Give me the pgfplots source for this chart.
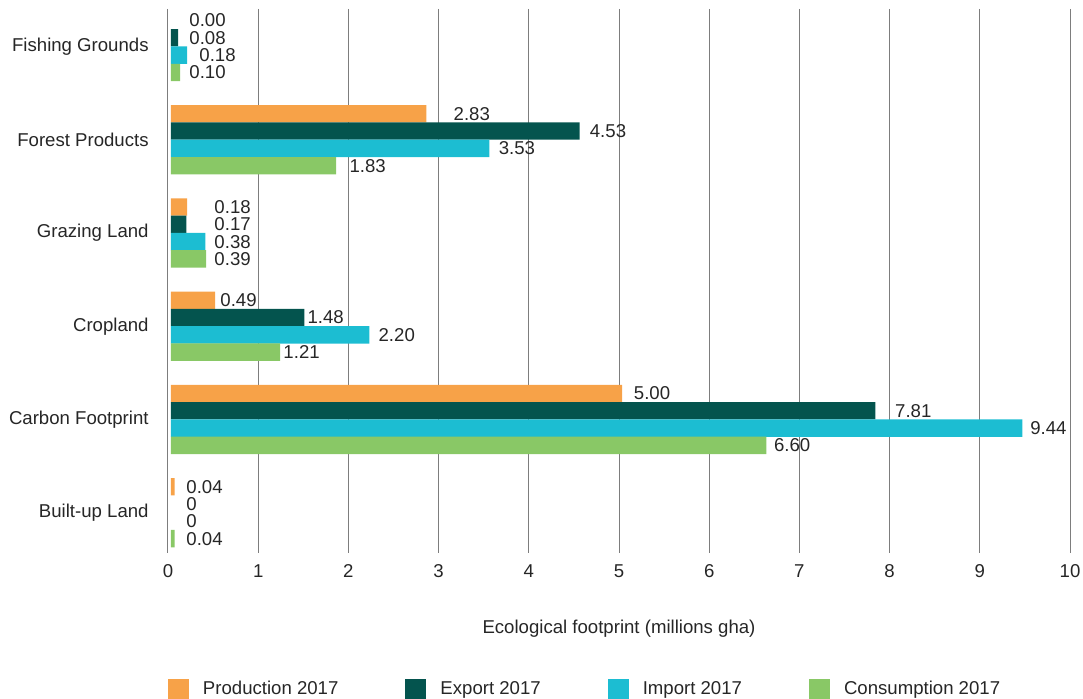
\documentclass[border=0pt]{standalone}
\usepackage{pgfplots}
\pgfplotsset{compat=1.18}
\usepackage{pgfplotstable}
\usepackage{fontspec}
\setmainfont{Liberation Sans}
\usetikzlibrary{calc}

\definecolor{cprod}{RGB}{247,162,72}
\definecolor{cexp}{RGB}{4,84,78}
\definecolor{cimp}{RGB}{28,189,210}
\definecolor{ccons}{RGB}{137,200,102}
\definecolor{cgrid}{RGB}{125,125,125}
\definecolor{ctext}{RGB}{38,38,38}

% columns: category index, value, label text, label x position
\pgfplotstableread{
y val lab lx
0 0.00 0.00 0.233
1 2.83 2.83 3.163
2 0.18 0.18 0.511
3 0.49 0.49 0.577
4 5.00 5.00 5.161
5 0.04 0.04 0.200
}\tprod
\pgfplotstableread{
y val lab lx
0 0.08 0.08 0.233
1 4.53 4.53 4.673
2 0.17 0.17 0.511
3 1.48 1.48 1.543
4 7.81 7.81 8.058
5 0 0 0.200
}\texp
\pgfplotstableread{
y val lab lx
0 0.18 0.18 0.344
1 3.53 3.53 3.663
2 0.38 0.38 0.511
3 2.20 2.20 2.331
4 9.44 9.44 9.556
5 0 0 0.200
}\timp
\pgfplotstableread{
y val lab lx
0 0.10 0.10 0.233
1 1.83 1.83 2.009
2 0.39 0.39 0.511
3 1.21 1.21 1.276
4 6.60 6.60 6.715
5 0.04 0.04 0.200
}\tcons

\begin{document}
\color{ctext}
\begin{tikzpicture}[font=\fontsize{9.3}{11.2}\selectfont]
\begin{axis}[
  name=ax,
  scale only axis,
  width=451pt, height=272pt,
  xmin=0, xmax=10,
  ymin=-0.402, ymax=5.432,
  y dir=reverse,
  xtick={0,1,...,10},
  ytick={0,1,2,3,4,5},
  yticklabels={Fishing Grounds,Forest Products,Grazing Land,Cropland,Carbon Footprint,Built-up Land},
  /pgf/number format/assume math mode=true,
  axis line style={draw=none},
  major tick length=0pt,
  xmajorgrids,
  grid style={cgrid, line width=0.5pt},
  xticklabel style={inner sep=0pt, yshift=-5.5pt},
  yticklabel style={inner sep=0pt, xshift=-9.5pt},
  xlabel={Ecological footprint (millions gha)},
  xlabel style={at={(axis description cs:0.5,0)}, anchor=north, inner sep=0pt, yshift=-33.5pt},
  legend columns=4,
  legend style={at={(axis description cs:0,0)}, anchor=north west, yshift=-63pt,
    draw=none, fill=none, inner sep=0pt, outer sep=0pt,
    nodes={inner sep=0pt},
    /tikz/every odd column/.append style={column sep=7pt},
    /tikz/every even column/.append style={column sep=33.5pt}},
  legend image code/.code={\fill[#1] (0pt,-5.25pt) rectangle (10.5pt,5.25pt);},
  nodes near coords style={anchor=west, inner sep=0pt},
  zerobar/.style={x filter/.expression={x==0 ? nan : x}},
]
\addplot[xbar, zerobar, xshift=1.5pt, bar width=0.1855, bar shift=-0.278, fill=cprod, draw=none] table[x=val, y=y] {\tprod};
\addlegendentry{Production 2017}
\addplot[xbar, zerobar, xshift=1.5pt, bar width=0.1855, bar shift=-0.0928, fill=cexp, draw=none] table[x=val, y=y] {\texp};
\addlegendentry{Export 2017}
\addplot[xbar, zerobar, xshift=1.5pt, bar width=0.1855, bar shift=0.0928, fill=cimp, draw=none] table[x=val, y=y] {\timp};
\addlegendentry{Import 2017}
\addplot[xbar, zerobar, xshift=1.5pt, bar width=0.1855, bar shift=0.278, fill=ccons, draw=none] table[x=val, y=y] {\tcons};
\addlegendentry{Consumption 2017}

\addplot[forget plot, draw=none, mark=none, nodes near coords, point meta=explicit symbolic,
  every node near coord/.append style={anchor=west, inner sep=0pt}]
  table[x=lx, y expr=\thisrow{y}-0.278, meta=lab] {\tprod};
\addplot[forget plot, draw=none, mark=none, nodes near coords, point meta=explicit symbolic,
  every node near coord/.append style={anchor=west, inner sep=0pt}]
  table[x=lx, y expr=\thisrow{y}-0.0928, meta=lab] {\texp};
\addplot[forget plot, draw=none, mark=none, nodes near coords, point meta=explicit symbolic,
  every node near coord/.append style={anchor=west, inner sep=0pt}]
  table[x=lx, y expr=\thisrow{y}+0.0928, meta=lab] {\timp};
\addplot[forget plot, draw=none, mark=none, nodes near coords, point meta=explicit symbolic,
  every node near coord/.append style={anchor=west, inner sep=0pt}]
  table[x=lx, y expr=\thisrow{y}+0.278, meta=lab] {\tcons};
\end{axis}
\pgfresetboundingbox
\path[use as bounding box] ($(ax.south west)+(-84pt,-73pt)$) rectangle ($(ax.north east)+(6.5pt,4.5pt)$);
\end{tikzpicture}
\end{document}
